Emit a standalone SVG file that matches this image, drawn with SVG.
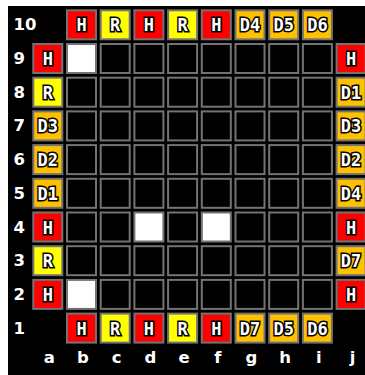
<svg xmlns="http://www.w3.org/2000/svg" width="365" height="375" viewBox="0 0 365 375">
<style>
.bg{fill:#000}
.c{stroke:#737373;stroke-width:2}
.k{fill:#000}
.w{fill:#fff}
.r{fill:#ff0000}
.y{fill:#ffff00}
.o{fill:#ffc000}
.t{font-family:"DejaVu Sans Mono",monospace;font-weight:bold;font-size:17px;fill:#fff;stroke:#000;stroke-width:3;paint-order:stroke;text-anchor:middle;stroke-linejoin:miter}
.lbl{font-family:"DejaVu Sans","Liberation Sans",sans-serif;font-weight:bold;font-size:16.5px;fill:#fff}
.col{text-anchor:middle}
</style>
<rect x="0" y="0" width="365" height="375" fill="#fff"/>
<rect class="bg" x="8" y="6" width="357" height="369"/>
<g id="labels">
<text class="lbl" x="13.5" y="30.3">10</text>
<text class="lbl" x="13.5" y="64">9</text>
<text class="lbl" x="13.5" y="97.7">8</text>
<text class="lbl" x="13.5" y="131.4">7</text>
<text class="lbl" x="13.5" y="165.1">6</text>
<text class="lbl" x="13.5" y="198.8">5</text>
<text class="lbl" x="13.5" y="232.5">4</text>
<text class="lbl" x="13.5" y="266.2">3</text>
<text class="lbl" x="13.5" y="299.9">2</text>
<text class="lbl" x="13.5" y="333.6">1</text>
<text class="lbl col" x="49.3" y="363">a</text>
<text class="lbl col" x="83" y="363">b</text>
<text class="lbl col" x="116.7" y="363">c</text>
<text class="lbl col" x="150.4" y="363">d</text>
<text class="lbl col" x="184.1" y="363">e</text>
<text class="lbl col" x="217.8" y="363">f</text>
<text class="lbl col" x="251.5" y="363">g</text>
<text class="lbl col" x="285.2" y="363">h</text>
<text class="lbl col" x="318.9" y="363">i</text>
<text class="lbl col" x="352.6" y="363">j</text>
</g>
<g id="row10">
<g id="b10" transform="translate(66,9.3)"><rect class="c r" x="1" y="1" width="29" height="29"/><text class="t" x="15.5" y="22">H</text></g>
<g id="c10" transform="translate(99.7,9.3)"><rect class="c y" x="1" y="1" width="29" height="29"/><text class="t" x="15.5" y="22">R</text></g>
<g id="d10" transform="translate(133.4,9.3)"><rect class="c r" x="1" y="1" width="29" height="29"/><text class="t" x="15.5" y="22">H</text></g>
<g id="e10" transform="translate(167.1,9.3)"><rect class="c y" x="1" y="1" width="29" height="29"/><text class="t" x="15.5" y="22">R</text></g>
<g id="f10" transform="translate(200.8,9.3)"><rect class="c r" x="1" y="1" width="29" height="29"/><text class="t" x="15.5" y="22">H</text></g>
<g id="g10" transform="translate(234.5,9.3)"><rect class="c o" x="1" y="1" width="29" height="29"/><text class="t" x="15.5" y="22">D4</text></g>
<g id="h10" transform="translate(268.2,9.3)"><rect class="c o" x="1" y="1" width="29" height="29"/><text class="t" x="15.5" y="22">D5</text></g>
<g id="i10" transform="translate(301.9,9.3)"><rect class="c o" x="1" y="1" width="29" height="29"/><text class="t" x="15.5" y="22">D6</text></g>
</g>
<g id="row1">
<g id="b1" transform="translate(66,312.6)"><rect class="c r" x="1" y="1" width="29" height="29"/><text class="t" x="15.5" y="22">H</text></g>
<g id="c1" transform="translate(99.7,312.6)"><rect class="c y" x="1" y="1" width="29" height="29"/><text class="t" x="15.5" y="22">R</text></g>
<g id="d1" transform="translate(133.4,312.6)"><rect class="c r" x="1" y="1" width="29" height="29"/><text class="t" x="15.5" y="22">H</text></g>
<g id="e1" transform="translate(167.1,312.6)"><rect class="c y" x="1" y="1" width="29" height="29"/><text class="t" x="15.5" y="22">R</text></g>
<g id="f1" transform="translate(200.8,312.6)"><rect class="c r" x="1" y="1" width="29" height="29"/><text class="t" x="15.5" y="22">H</text></g>
<g id="g1" transform="translate(234.5,312.6)"><rect class="c o" x="1" y="1" width="29" height="29"/><text class="t" x="15.5" y="22">D7</text></g>
<g id="h1" transform="translate(268.2,312.6)"><rect class="c o" x="1" y="1" width="29" height="29"/><text class="t" x="15.5" y="22">D5</text></g>
<g id="i1" transform="translate(301.9,312.6)"><rect class="c o" x="1" y="1" width="29" height="29"/><text class="t" x="15.5" y="22">D6</text></g>
</g>
<g id="colA">
<g id="a9" transform="translate(32.3,43)"><rect class="c r" x="1" y="1" width="29" height="29"/><text class="t" x="15.5" y="22">H</text></g>
<g id="a8" transform="translate(32.3,76.7)"><rect class="c y" x="1" y="1" width="29" height="29"/><text class="t" x="15.5" y="22">R</text></g>
<g id="a7" transform="translate(32.3,110.4)"><rect class="c o" x="1" y="1" width="29" height="29"/><text class="t" x="15.5" y="22">D3</text></g>
<g id="a6" transform="translate(32.3,144.1)"><rect class="c o" x="1" y="1" width="29" height="29"/><text class="t" x="15.5" y="22">D2</text></g>
<g id="a5" transform="translate(32.3,177.8)"><rect class="c o" x="1" y="1" width="29" height="29"/><text class="t" x="15.5" y="22">D1</text></g>
<g id="a4" transform="translate(32.3,211.5)"><rect class="c r" x="1" y="1" width="29" height="29"/><text class="t" x="15.5" y="22">H</text></g>
<g id="a3" transform="translate(32.3,245.2)"><rect class="c y" x="1" y="1" width="29" height="29"/><text class="t" x="15.5" y="22">R</text></g>
<g id="a2" transform="translate(32.3,278.9)"><rect class="c r" x="1" y="1" width="29" height="29"/><text class="t" x="15.5" y="22">H</text></g>
</g>
<g id="colJ">
<g id="j9" transform="translate(335.6,43)"><rect class="c r" x="1" y="1" width="29" height="29"/><text class="t" x="15.5" y="22">H</text></g>
<g id="j8" transform="translate(335.6,76.7)"><rect class="c o" x="1" y="1" width="29" height="29"/><text class="t" x="15.5" y="22">D1</text></g>
<g id="j7" transform="translate(335.6,110.4)"><rect class="c o" x="1" y="1" width="29" height="29"/><text class="t" x="15.5" y="22">D3</text></g>
<g id="j6" transform="translate(335.6,144.1)"><rect class="c o" x="1" y="1" width="29" height="29"/><text class="t" x="15.5" y="22">D2</text></g>
<g id="j5" transform="translate(335.6,177.8)"><rect class="c o" x="1" y="1" width="29" height="29"/><text class="t" x="15.5" y="22">D4</text></g>
<g id="j4" transform="translate(335.6,211.5)"><rect class="c r" x="1" y="1" width="29" height="29"/><text class="t" x="15.5" y="22">H</text></g>
<g id="j3" transform="translate(335.6,245.2)"><rect class="c o" x="1" y="1" width="29" height="29"/><text class="t" x="15.5" y="22">D7</text></g>
<g id="j2" transform="translate(335.6,278.9)"><rect class="c r" x="1" y="1" width="29" height="29"/><text class="t" x="15.5" y="22">H</text></g>
</g>
<g id="board">
<g id="r9" transform="translate(0,43)">
<rect id="b9" class="c w" x="67" y="1" width="29" height="29"/>
<rect id="c9" class="c k" x="100.7" y="1" width="29" height="29"/>
<rect id="d9" class="c k" x="134.4" y="1" width="29" height="29"/>
<rect id="e9" class="c k" x="168.1" y="1" width="29" height="29"/>
<rect id="f9" class="c k" x="201.8" y="1" width="29" height="29"/>
<rect id="g9" class="c k" x="235.5" y="1" width="29" height="29"/>
<rect id="h9" class="c k" x="269.2" y="1" width="29" height="29"/>
<rect id="i9" class="c k" x="302.9" y="1" width="29" height="29"/>
</g>
<g id="r8" transform="translate(0,76.7)">
<rect id="b8" class="c k" x="67" y="1" width="29" height="29"/>
<rect id="c8" class="c k" x="100.7" y="1" width="29" height="29"/>
<rect id="d8" class="c k" x="134.4" y="1" width="29" height="29"/>
<rect id="e8" class="c k" x="168.1" y="1" width="29" height="29"/>
<rect id="f8" class="c k" x="201.8" y="1" width="29" height="29"/>
<rect id="g8" class="c k" x="235.5" y="1" width="29" height="29"/>
<rect id="h8" class="c k" x="269.2" y="1" width="29" height="29"/>
<rect id="i8" class="c k" x="302.9" y="1" width="29" height="29"/>
</g>
<g id="r7" transform="translate(0,110.4)">
<rect id="b7" class="c k" x="67" y="1" width="29" height="29"/>
<rect id="c7" class="c k" x="100.7" y="1" width="29" height="29"/>
<rect id="d7" class="c k" x="134.4" y="1" width="29" height="29"/>
<rect id="e7" class="c k" x="168.1" y="1" width="29" height="29"/>
<rect id="f7" class="c k" x="201.8" y="1" width="29" height="29"/>
<rect id="g7" class="c k" x="235.5" y="1" width="29" height="29"/>
<rect id="h7" class="c k" x="269.2" y="1" width="29" height="29"/>
<rect id="i7" class="c k" x="302.9" y="1" width="29" height="29"/>
</g>
<g id="r6" transform="translate(0,144.1)">
<rect id="b6" class="c k" x="67" y="1" width="29" height="29"/>
<rect id="c6" class="c k" x="100.7" y="1" width="29" height="29"/>
<rect id="d6" class="c k" x="134.4" y="1" width="29" height="29"/>
<rect id="e6" class="c k" x="168.1" y="1" width="29" height="29"/>
<rect id="f6" class="c k" x="201.8" y="1" width="29" height="29"/>
<rect id="g6" class="c k" x="235.5" y="1" width="29" height="29"/>
<rect id="h6" class="c k" x="269.2" y="1" width="29" height="29"/>
<rect id="i6" class="c k" x="302.9" y="1" width="29" height="29"/>
</g>
<g id="r5" transform="translate(0,177.8)">
<rect id="b5" class="c k" x="67" y="1" width="29" height="29"/>
<rect id="c5" class="c k" x="100.7" y="1" width="29" height="29"/>
<rect id="d5" class="c k" x="134.4" y="1" width="29" height="29"/>
<rect id="e5" class="c k" x="168.1" y="1" width="29" height="29"/>
<rect id="f5" class="c k" x="201.8" y="1" width="29" height="29"/>
<rect id="g5" class="c k" x="235.5" y="1" width="29" height="29"/>
<rect id="h5" class="c k" x="269.2" y="1" width="29" height="29"/>
<rect id="i5" class="c k" x="302.9" y="1" width="29" height="29"/>
</g>
<g id="r4" transform="translate(0,211.5)">
<rect id="b4" class="c k" x="67" y="1" width="29" height="29"/>
<rect id="c4" class="c k" x="100.7" y="1" width="29" height="29"/>
<rect id="d4" class="c w" x="134.4" y="1" width="29" height="29"/>
<rect id="e4" class="c k" x="168.1" y="1" width="29" height="29"/>
<rect id="f4" class="c w" x="201.8" y="1" width="29" height="29"/>
<rect id="g4" class="c k" x="235.5" y="1" width="29" height="29"/>
<rect id="h4" class="c k" x="269.2" y="1" width="29" height="29"/>
<rect id="i4" class="c k" x="302.9" y="1" width="29" height="29"/>
</g>
<g id="r3" transform="translate(0,245.2)">
<rect id="b3" class="c k" x="67" y="1" width="29" height="29"/>
<rect id="c3" class="c k" x="100.7" y="1" width="29" height="29"/>
<rect id="d3" class="c k" x="134.4" y="1" width="29" height="29"/>
<rect id="e3" class="c k" x="168.1" y="1" width="29" height="29"/>
<rect id="f3" class="c k" x="201.8" y="1" width="29" height="29"/>
<rect id="g3" class="c k" x="235.5" y="1" width="29" height="29"/>
<rect id="h3" class="c k" x="269.2" y="1" width="29" height="29"/>
<rect id="i3" class="c k" x="302.9" y="1" width="29" height="29"/>
</g>
<g id="r2" transform="translate(0,278.9)">
<rect id="b2" class="c w" x="67" y="1" width="29" height="29"/>
<rect id="c2" class="c k" x="100.7" y="1" width="29" height="29"/>
<rect id="d2" class="c k" x="134.4" y="1" width="29" height="29"/>
<rect id="e2" class="c k" x="168.1" y="1" width="29" height="29"/>
<rect id="f2" class="c k" x="201.8" y="1" width="29" height="29"/>
<rect id="g2" class="c k" x="235.5" y="1" width="29" height="29"/>
<rect id="h2" class="c k" x="269.2" y="1" width="29" height="29"/>
<rect id="i2" class="c k" x="302.9" y="1" width="29" height="29"/>
</g>
</g>
<g id="connectors"/>
</svg>
